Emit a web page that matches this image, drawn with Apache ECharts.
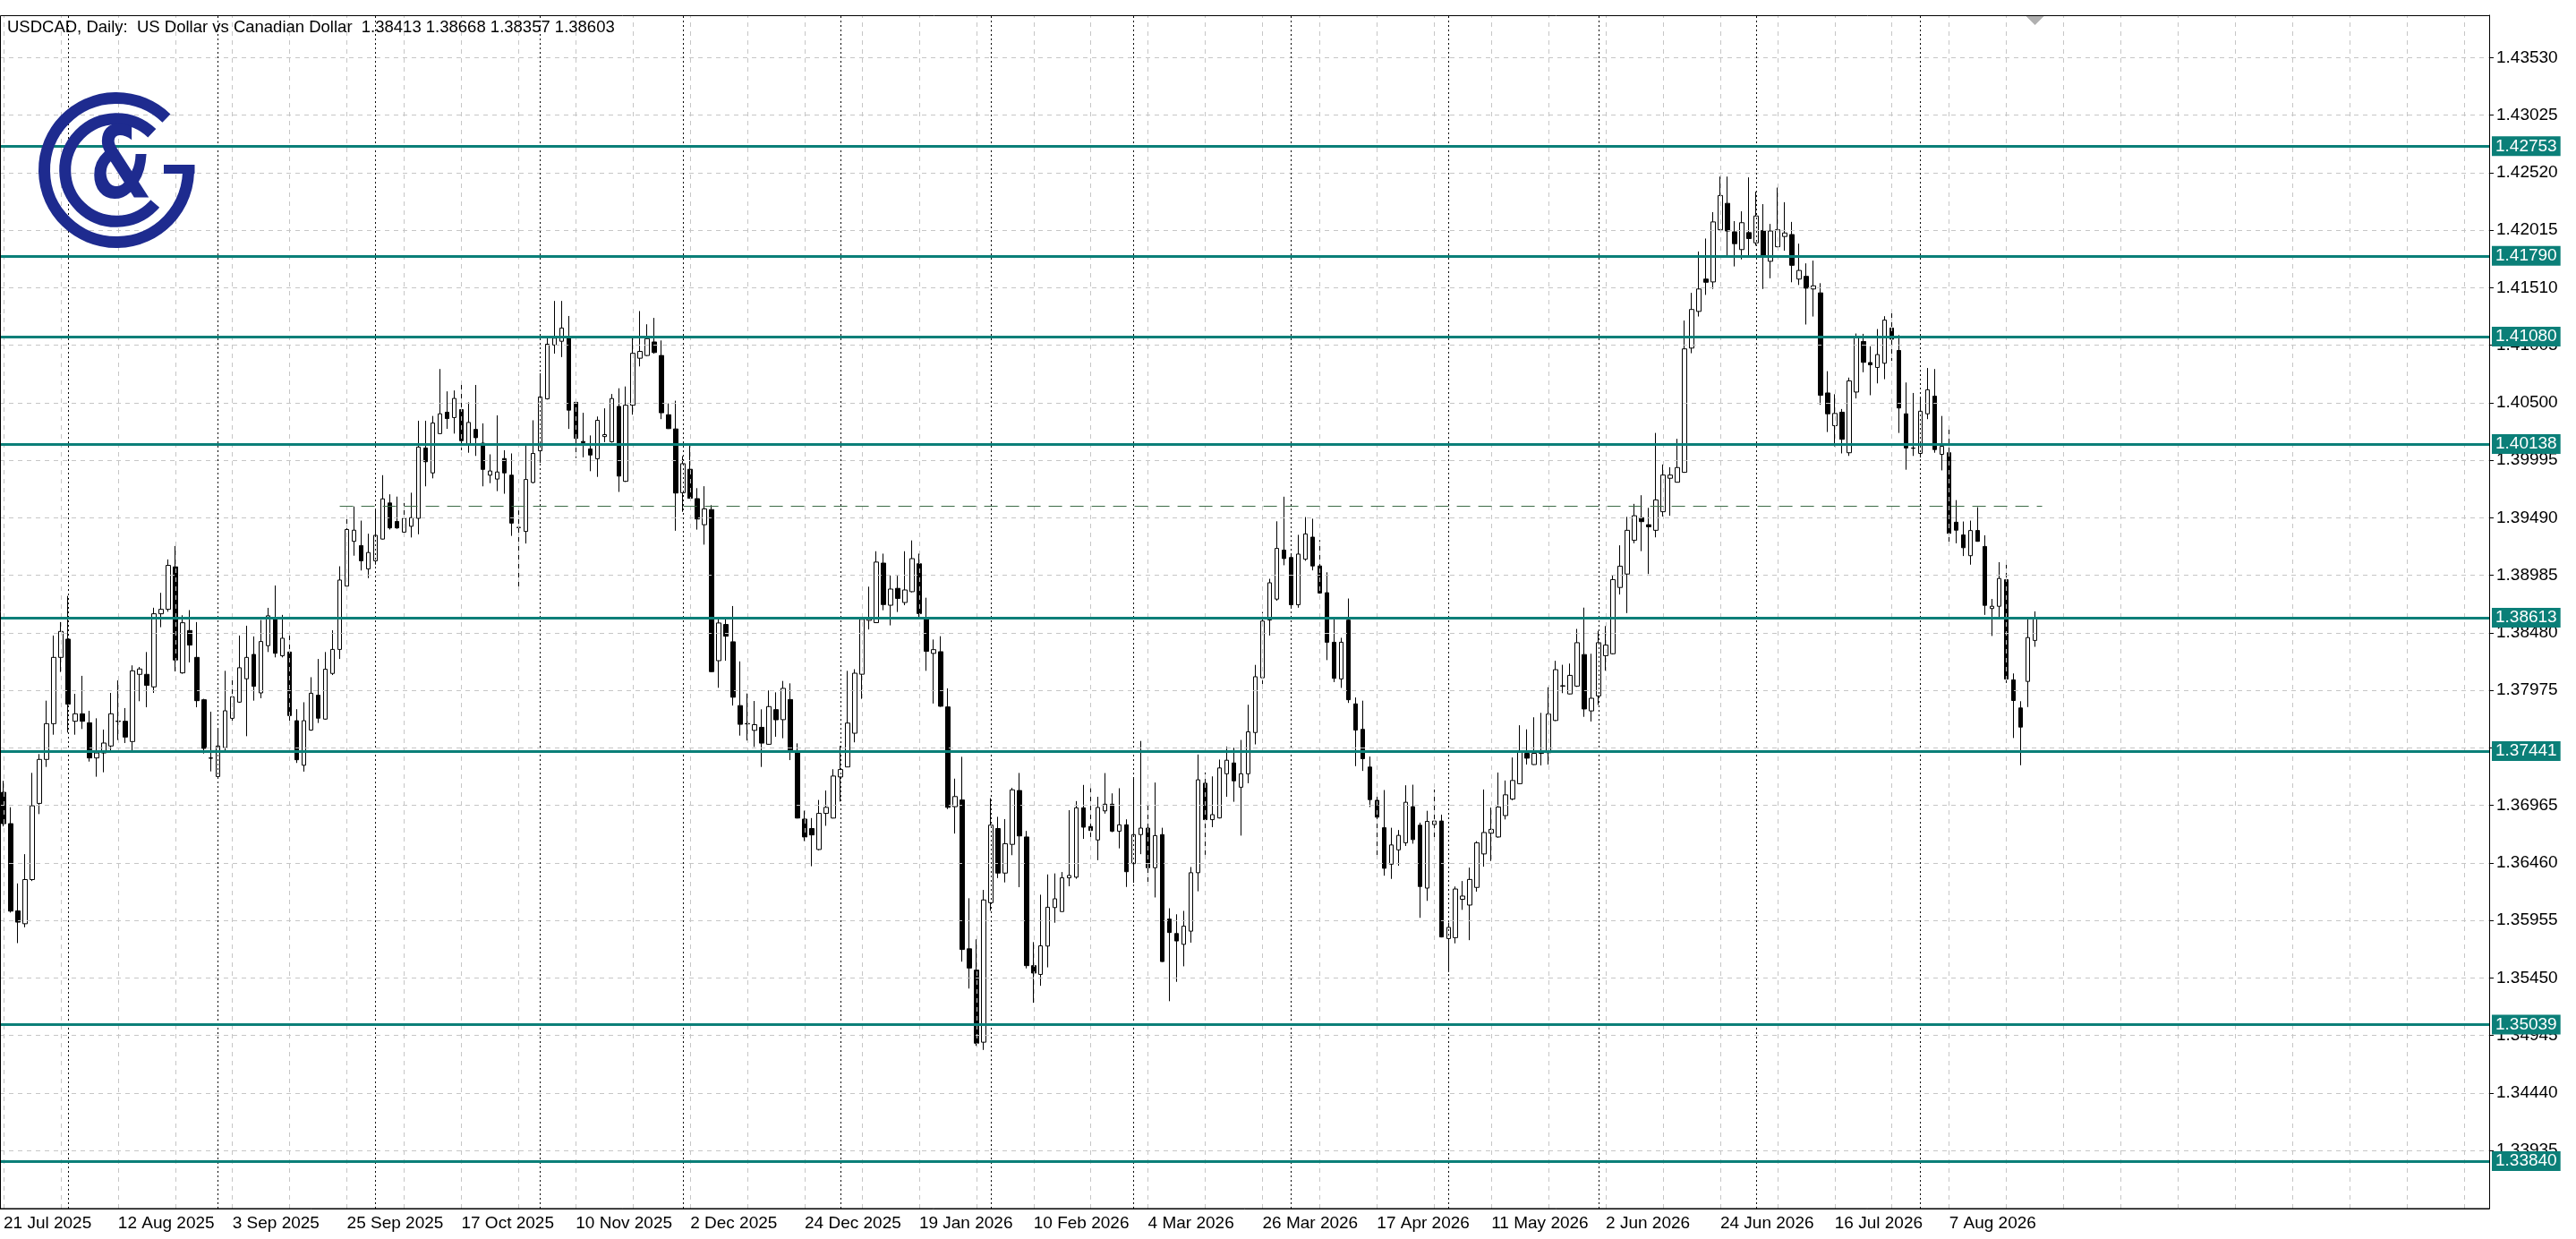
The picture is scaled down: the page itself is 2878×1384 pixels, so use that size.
<!DOCTYPE html>
<html><head><meta charset="utf-8">
<script src="https://cdn.jsdelivr.net/npm/echarts@6/dist/echarts.min.js"></script>
<style>html,body{margin:0;padding:0;background:#fff}#c{width:2878px;height:1384px}</style>
</head><body><div id="c"></div>
<script>
// ---------- data ----------
const startDate = '2025-07-21';
const holidays = ['2025-12-25', '2026-01-01'];
const totalSlots = 348;            // bars + empty shift area on the right
const titleText = 'USDCAD, Daily:  US Dollar vs Canadian Dollar  1.38413 1.38668 1.38357 1.38603';
const opens = [1.37079,1.36804,1.36038,1.35925,1.36313,1.36982,1.37368,1.37682,1.38264,1.38424,1.37703,1.37769,1.37690,1.37381,1.37425,1.37486,1.37701,1.37703,1.37525,1.38115,1.38115,1.38005,1.38647,1.38686,1.39059,1.38128,1.38500,1.38264,1.37892,1.37381,1.37218,1.37472,1.37729,1.37871,1.38076,1.38290,1.37952,1.38367,1.38601,1.38278,1.38311,1.37708,1.37317,1.37626,1.37932,1.37722,1.38123,1.38334,1.38890,1.39283,1.39246,1.39041,1.39112,1.39303,1.39620,1.39457,1.39364,1.39415,1.39485,1.40103,1.39884,1.40229,1.40417,1.40370,1.40440,1.40131,1.40266,1.40145,1.39864,1.39830,1.40010,1.39864,1.39406,1.39370,1.39800,1.40078,1.40534,1.41007,1.41040,1.41067,1.40504,1.40160,1.40094,1.40008,1.40203,1.40157,1.40468,1.39810,1.40478,1.40891,1.40915,1.41034,1.40915,1.40395,1.40270,1.39710,1.39916,1.39658,1.39429,1.39562,1.38235,1.38553,1.38401,1.37841,1.37683,1.37623,1.37650,1.37501,1.37805,1.37717,1.37894,1.37435,1.36844,1.36761,1.36577,1.36894,1.36853,1.37214,1.37302,1.37598,1.38116,1.38589,1.38569,1.39092,1.38722,1.38870,1.38746,1.38841,1.39086,1.38604,1.38299,1.38314,1.37829,1.36953,1.37012,1.35705,1.35518,1.34885,1.36110,1.36761,1.36370,1.36622,1.37095,1.36687,1.35557,1.35480,1.35729,1.36067,1.36032,1.36328,1.36334,1.36943,1.36779,1.36661,1.36916,1.36975,1.36738,1.36794,1.36453,1.36708,1.36765,1.36417,1.36708,1.35966,1.35839,1.35744,1.35860,1.36373,1.37159,1.36839,1.36854,1.37242,1.37337,1.37124,1.37242,1.37604,1.38085,1.38592,1.38776,1.39206,1.39141,1.38726,1.39126,1.39320,1.39067,1.38832,1.38397,1.38075,1.38591,1.37856,1.37632,1.37301,1.37009,1.36768,1.36448,1.36574,1.36636,1.36953,1.36790,1.36238,1.36796,1.36827,1.35795,1.35803,1.36140,1.36089,1.36244,1.36538,1.36720,1.36687,1.36875,1.37020,1.37155,1.37421,1.37323,1.37421,1.37427,1.37710,1.38012,1.37943,1.38012,1.38289,1.37794,1.37926,1.38279,1.38296,1.38878,1.38996,1.39293,1.39491,1.39429,1.39380,1.39543,1.39837,1.39802,1.39889,1.40980,1.41302,1.41586,1.41561,1.42019,1.42251,1.42001,1.41845,1.41994,1.41904,1.42012,1.41742,1.41870,1.41960,1.41977,1.41586,1.41610,1.41499,1.41465,1.40586,1.40299,1.40417,1.40061,1.40594,1.41038,1.40853,1.40810,1.40847,1.41156,1.40959,1.40403,1.40103,1.40055,1.40403,1.40558,1.40047,1.40061,1.39451,1.39339,1.39157,1.39378,1.39238,1.38693,1.38713,1.38946,1.38067,1.37820,1.38053,1.38413];
const highs = [1.37180,1.36948,1.36279,1.36536,1.37250,1.37415,1.37884,1.38456,1.38574,1.38804,1.37944,1.38102,1.37795,1.37729,1.37630,1.37952,1.38062,1.37819,1.38194,1.38180,1.38311,1.38700,1.38831,1.39124,1.39242,1.38634,1.38679,1.38574,1.37900,1.37787,1.37630,1.38146,1.38083,1.38456,1.38542,1.38448,1.38592,1.38699,1.38895,1.38637,1.38460,1.37809,1.37870,1.38090,1.38250,1.38311,1.38502,1.39064,1.39499,1.39589,1.39465,1.39350,1.39569,1.39864,1.39696,1.39676,1.39620,1.39710,1.40342,1.40342,1.40384,1.40796,1.40600,1.40608,1.40678,1.40504,1.40656,1.40319,1.40047,1.40389,1.40083,1.40055,1.39555,1.40131,1.40346,1.40759,1.41073,1.41394,1.41394,1.41262,1.40510,1.40412,1.40213,1.40379,1.40451,1.40577,1.40627,1.40643,1.41073,1.41305,1.41189,1.41245,1.41047,1.40494,1.40518,1.40031,1.40121,1.39750,1.39767,1.39601,1.38609,1.38609,1.38715,1.38229,1.37947,1.37881,1.37808,1.37974,1.37957,1.38057,1.38036,1.37509,1.36918,1.36853,1.37012,1.37095,1.37282,1.37486,1.38146,1.38160,1.38619,1.38885,1.39196,1.39175,1.38989,1.38980,1.39196,1.39291,1.39175,1.38788,1.38421,1.38450,1.37992,1.37199,1.37391,1.36149,1.35788,1.36222,1.37027,1.36864,1.36844,1.37119,1.37249,1.36740,1.35764,1.36180,1.36358,1.36367,1.36379,1.36922,1.37002,1.37144,1.37115,1.37040,1.37248,1.37070,1.37115,1.36842,1.37204,1.37530,1.36996,1.37165,1.36768,1.36061,1.36008,1.36038,1.36423,1.37411,1.37254,1.37219,1.37367,1.37480,1.37471,1.37539,1.37848,1.38198,1.38663,1.38954,1.39459,1.39675,1.39162,1.39340,1.39496,1.39482,1.39294,1.39011,1.38599,1.38436,1.38781,1.37912,1.37884,1.37393,1.37071,1.37099,1.36768,1.36748,1.37141,1.37146,1.36813,1.36917,1.37104,1.36883,1.35935,1.36252,1.36300,1.36418,1.36650,1.37104,1.36945,1.37253,1.37183,1.37385,1.37668,1.37632,1.37738,1.37777,1.38002,1.38234,1.38199,1.38210,1.38514,1.38701,1.38296,1.38497,1.38539,1.38989,1.39248,1.39498,1.39612,1.39688,1.39577,1.40235,1.39958,1.39934,1.40183,1.41222,1.41465,1.41828,1.41942,1.42174,1.42486,1.42486,1.42095,1.42181,1.42479,1.42354,1.42244,1.42070,1.42389,1.42261,1.42088,1.41897,1.41724,1.41748,1.41550,1.40777,1.40575,1.40445,1.40721,1.41108,1.41105,1.40996,1.41147,1.41260,1.41288,1.41094,1.40678,1.40586,1.40552,1.40805,1.40796,1.40384,1.40285,1.39645,1.39457,1.39465,1.39583,1.39336,1.38777,1.39100,1.39078,1.38123,1.37879,1.38601,1.38668];
const lows = [1.36780,1.36023,1.35755,1.35894,1.36300,1.36888,1.37302,1.37585,1.38136,1.37604,1.37585,1.37635,1.37349,1.37216,1.37255,1.37446,1.37538,1.37512,1.37446,1.37879,1.37826,1.37952,1.38529,1.38665,1.38141,1.38120,1.38220,1.37826,1.37420,1.37263,1.37210,1.37446,1.37708,1.37865,1.37572,1.37884,1.37905,1.38311,1.38264,1.38264,1.37668,1.37337,1.37261,1.37620,1.37688,1.37718,1.38109,1.38250,1.38848,1.39157,1.39027,1.38960,1.39078,1.39300,1.39387,1.39393,1.39360,1.39317,1.39345,1.39766,1.39836,1.40225,1.40271,1.40229,1.40083,1.40061,1.40033,1.39766,1.39794,1.39724,1.39701,1.39331,1.38881,1.39264,1.39793,1.39972,1.40528,1.40931,1.40901,1.40270,1.40015,1.40021,1.39899,1.39849,1.40154,1.40150,1.39717,1.39805,1.40395,1.40819,1.40910,1.40931,1.40356,1.40270,1.39376,1.39542,1.39658,1.39386,1.39254,1.38135,1.37997,1.38235,1.37841,1.37577,1.37534,1.37478,1.37302,1.37498,1.37567,1.37554,1.37362,1.36850,1.36651,1.36430,1.36570,1.36785,1.36850,1.36998,1.37300,1.37518,1.37900,1.38509,1.38565,1.38678,1.38545,1.38663,1.38722,1.38835,1.38619,1.38146,1.37859,1.37830,1.36932,1.36717,1.35592,1.35356,1.34853,1.34817,1.36039,1.36326,1.36288,1.36527,1.36246,1.35533,1.35231,1.35380,1.35542,1.35934,1.36030,1.36254,1.36320,1.36670,1.36684,1.36483,1.36892,1.36729,1.36587,1.36248,1.36284,1.36536,1.36260,1.36156,1.35590,1.35245,1.35415,1.35551,1.35759,1.36210,1.36530,1.36773,1.36850,1.37040,1.36996,1.36699,1.37159,1.37500,1.38029,1.38456,1.38761,1.39073,1.38702,1.38700,1.39112,1.39028,1.38823,1.38240,1.38047,1.37996,1.37864,1.37309,1.37267,1.36950,1.36496,1.36347,1.36319,1.36434,1.36608,1.36628,1.35977,1.36126,1.36673,1.35805,1.35501,1.35753,1.36047,1.35781,1.36207,1.36426,1.36476,1.36680,1.36841,1.37009,1.37150,1.37323,1.37320,1.37315,1.37323,1.37705,1.37950,1.37940,1.38005,1.37742,1.37701,1.37846,1.38147,1.38290,1.38816,1.38653,1.39266,1.39197,1.38996,1.39318,1.39501,1.39508,1.39800,1.39885,1.40935,1.41257,1.41447,1.41499,1.42015,1.41793,1.41697,1.41759,1.41793,1.41880,1.41499,1.41593,1.41865,1.41835,1.41558,1.41534,1.41187,1.41257,1.40482,1.40243,1.40117,1.40055,1.40033,1.40538,1.40768,1.40566,1.40670,1.40707,1.40867,1.40235,1.39912,1.40033,1.40019,1.40356,1.40061,1.39906,1.39252,1.39266,1.39154,1.39078,1.39280,1.38637,1.38452,1.38609,1.38039,1.37556,1.37317,1.37828,1.38357];
const closes = [1.36804,1.36036,1.35939,1.36313,1.36961,1.37368,1.37682,1.38264,1.38492,1.37853,1.37769,1.37703,1.37381,1.37425,1.37512,1.37769,1.37705,1.37564,1.38146,1.38162,1.38018,1.38647,1.38686,1.39072,1.38241,1.38568,1.38372,1.37884,1.37465,1.37378,1.37486,1.37795,1.37918,1.38173,1.38264,1.38010,1.38403,1.38629,1.38300,1.38432,1.37753,1.37365,1.37708,1.37949,1.37730,1.38160,1.38334,1.38943,1.39387,1.39381,1.39112,1.39185,1.39336,1.39656,1.39401,1.39401,1.39485,1.39491,1.40111,1.39982,1.40322,1.40403,1.40361,1.40538,1.40167,1.40327,1.40193,1.39915,1.39901,1.39892,1.39884,1.39443,1.39404,1.39826,1.40055,1.40551,1.41014,1.41067,1.41156,1.40435,1.40187,1.40150,1.40041,1.40346,1.40220,1.40537,1.39856,1.40478,1.40934,1.40951,1.41063,1.40941,1.40412,1.40273,1.39707,1.39965,1.39661,1.39479,1.39568,1.38139,1.38566,1.38450,1.37914,1.37676,1.37680,1.37673,1.37511,1.37832,1.37716,1.37992,1.37450,1.36853,1.36687,1.36705,1.36894,1.36947,1.37222,1.37279,1.37687,1.38125,1.38598,1.38610,1.39101,1.38728,1.38864,1.38782,1.38856,1.39131,1.38649,1.38317,1.38332,1.37835,1.36947,1.37042,1.35699,1.35536,1.34876,1.36134,1.36791,1.36370,1.36628,1.37101,1.36696,1.35557,1.35492,1.35731,1.36070,1.36144,1.36328,1.36349,1.36943,1.36773,1.36744,1.36946,1.36975,1.36738,1.36794,1.36382,1.36708,1.36765,1.36417,1.36699,1.35593,1.35848,1.35774,1.35904,1.36373,1.37189,1.36839,1.36883,1.37293,1.37361,1.37180,1.37242,1.37610,1.38094,1.38583,1.38919,1.39221,1.39132,1.38726,1.39171,1.39348,1.39067,1.38829,1.38397,1.38080,1.38397,1.37892,1.37626,1.37374,1.37015,1.36861,1.36412,1.36617,1.36701,1.36992,1.36664,1.36252,1.36824,1.36827,1.35809,1.35893,1.36230,1.36168,1.36314,1.36636,1.36726,1.36754,1.36950,1.37057,1.37183,1.37430,1.37379,1.37421,1.37427,1.37766,1.38156,1.38015,1.38106,1.38393,1.37811,1.37905,1.38393,1.38372,1.38947,1.39065,1.39380,1.39508,1.39456,1.39411,1.39647,1.39865,1.39865,1.39931,1.40973,1.41319,1.41499,1.41558,1.42088,1.42320,1.42008,1.41897,1.42081,1.41942,1.42140,1.41793,1.42008,1.42019,1.41991,1.41707,1.41662,1.41506,1.41527,1.40566,1.40403,1.40406,1.40179,1.40692,1.41072,1.40855,1.40833,1.40923,1.41226,1.41058,1.40454,1.40103,1.40100,1.40426,1.40614,1.40089,1.40117,1.39353,1.39381,1.39227,1.39378,1.39283,1.38721,1.38713,1.38957,1.38073,1.37885,1.37652,1.38438,1.38603];
const priceTicks = [1.33935,1.34440,1.34945,1.35450,1.35955,1.36460,1.36965,1.37470,1.37975,1.38480,1.38985,1.39490,1.39995,1.40500,1.41005,1.41510,1.42015,1.42520,1.43025,1.43530];
const levels = [1.42753,1.41790,1.41080,1.40138,1.38613,1.37441,1.35039,1.33840];
const dashedLevel = 1.39590;
const dashedFromDate = '2025-09-24';
const dashedToDate = '2026-08-26';
const yMin = 1.33424, yMax = 1.43903;

// ---------- build ----------
const months = ['Jan','Feb','Mar','Apr','May','Jun','Jul','Aug','Sep','Oct','Nov','Dec'];
const cats = [];
(function(){
  const d = new Date(startDate + 'T00:00:00Z');
  while (cats.length < totalSlots) {
    const s = d.toISOString().slice(0,10), w = d.getUTCDay();
    if (w !== 0 && w !== 6 && holidays.indexOf(s) < 0) cats.push(s);
    d.setUTCDate(d.getUTCDate() + 1);
  }
})();
const nBars = closes.length;
const candleData = closes.map((c,i) => [opens[i], c, lows[i], highs[i]]);
const monthStarts = [];
for (let i = 1; i < nBars; i++) if (cats[i].slice(0,7) !== cats[i-1].slice(0,7)) monthStarts.push(i);
const gridX = [];
for (let i = 0; i < totalSlots; i += 8) gridX.push(i);
const fmtDate = v => { const p = v.split('-'); return (+p[2]) + ' ' + months[+p[1]-1] + ' ' + p[0]; };

const TEAL = '#0b7f78', FONT = 'Liberation Sans', LOGO = '#1e2b8f';
const blank = cats.map(() => '-');

const chart = echarts.init(document.getElementById('c'), null, {renderer: 'canvas'});
chart.setOption({
  animation: false,
  backgroundColor: '#ffffff',
  grid: {left: -3, right: 97, top: 17, bottom: 34, containLabel: false},
  xAxis: {
    type: 'category', data: cats, boundaryGap: true,
    axisLine: {show: true, lineStyle: {color: '#000', width: 1}},
    axisTick: {show: false},
    splitLine: {show: false},
    axisLabel: {
      interval: (i) => i % 16 === 0 && i < nBars,
      formatter: fmtDate, align: 'left', margin: 7,
      fontSize: 19, fontFamily: FONT, color: '#000', hideOverlap: false
    }
  },
  yAxis: {
    type: 'value', position: 'right', min: yMin, max: yMax, scale: true,
    axisLine: {show: true, lineStyle: {color: '#000', width: 1}},
    axisTick: {show: true, length: 5, customValues: priceTicks, lineStyle: {color: '#000'}},
    splitLine: {show: false},
    axisLabel: {customValues: priceTicks, formatter: v => v.toFixed(5), margin: 8,
      fontSize: 19, fontFamily: FONT, color: '#000'}
  },
  series: [
    { // grid lines
      type: 'line', data: blank, z: 1, silent: true, symbol: 'none',
      lineStyle: {opacity: 0},
      markLine: {
        silent: true, symbol: 'none', animation: false, precision: 6, label: {show: false},
        data: [].concat(
          priceTicks.map(v => ({yAxis: v, lineStyle: {color: '#c6c6c6', type: [5,5], width: 1}})),
          gridX.map(i => ({xAxis: cats[i], lineStyle: {color: '#c6c6c6', type: [5,5], width: 1}})),
          monthStarts.map(i => ({xAxis: cats[i], lineStyle: {color: '#000', type: [2,3], width: 1}}))
        )
      }
    },
    {
      type: 'candlestick', data: candleData, z: 2, barWidth: 5,
      itemStyle: {color: '#ffffff', color0: '#000000', borderColor: '#000000', borderColor0: '#000000',
        borderColorDoji: '#000000', borderWidth: 1}
    },
    { // levels
      type: 'line', data: blank, z: 5, silent: true, symbol: 'none', clip: false,
      lineStyle: {opacity: 0},
      markLine: {
        silent: true, symbol: 'none', animation: false, precision: 6,
        data: [].concat(
          levels.map(v => ({yAxis: v,
            lineStyle: {color: TEAL, width: 3, type: 'solid'},
            label: {show: true, position: 'end', distance: 3, formatter: () => v.toFixed(5),
              backgroundColor: TEAL, color: '#fff', padding: [2,4,1,4],
              fontSize: 19, fontFamily: FONT}})),
          [[{coord: [dashedFromDate, dashedLevel], lineStyle: {color: '#3d6b47', width: 1.2, type: [15,9]}, label: {show: false}},
            {coord: [dashedToDate, dashedLevel]}]]
        )
      }
    }
  ]
});

const lastX = chart.convertToPixel({xAxisIndex: 0}, cats[nBars - 1]);
const d2r = Math.PI / 180;
chart.setOption({
  graphic: [
    {type: 'rect', z: 50, silent: true, shape: {x: 0.5, y: 17.5, width: 2781, height: 1332.5},
      style: {fill: 'none', stroke: '#000', lineWidth: 1}},
    {type: 'text', z: 60, x: 8, y: 31, style: {text: titleText, font: '18.5px ' + FONT, fill: '#000', verticalAlign: 'middle'}},
    {type: 'polygon', z: 60, shape: {points: [[lastX - 10, 18], [lastX + 10, 18], [lastX, 28]]}, style: {fill: '#b0b0b0'}},
    {type: 'arc', z: 60, shape: {cx: 130, cy: 190, r: 80.5, startAngle: -46 * d2r, endAngle: -4 * d2r, clockwise: false},
      style: {stroke: LOGO, lineWidth: 13, fill: 'none'}},
    {type: 'rect', z: 60, shape: {x: 183, y: 184, width: 34.5, height: 10}, style: {fill: LOGO}},
    {type: 'arc', z: 60, shape: {cx: 130, cy: 190, r: 57.3, startAngle: -46 * d2r, endAngle: 41 * d2r, clockwise: false},
      style: {stroke: LOGO, lineWidth: 13, fill: 'none'}},
    {type: 'text', z: 61, x: 135, y: 191, scaleX: 0.72,
      style: {text: '&', font: 'bold 110px DejaVu Sans', fill: LOGO, align: 'center', verticalAlign: 'middle'}}
  ]
});
</script>
</body></html>
